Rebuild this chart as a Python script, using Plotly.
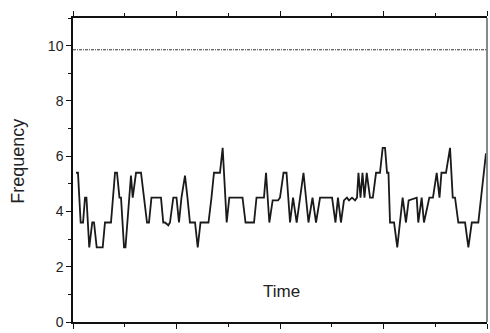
import plotly.graph_objects as go

time = [2.9, 4.8, 7.4, 9.7, 11.6, 13.0, 15.7, 18.6, 20.3, 22.9, 28.7, 30.9, 36.7, 40.6, 42.5,
        44.9, 46.4, 49.3, 50.7, 56.0, 57.7, 60.9, 65.7, 71.5, 73.4, 75.8, 85.0, 87.2, 88.9,
        92.1, 93.7, 96.9, 100.0, 102.4, 104.8, 108.2, 110.6, 113.0, 117.9, 120.5, 123.2,
        130.9, 133.8, 136.2, 142.0, 144.6, 148.5, 151.0, 163.8, 166.7, 174.9, 177.3, 184.5,
        186.5, 189.7, 192.9, 198.1, 200.0, 203.4, 206.3, 209.7, 212.6, 216.1, 222.7, 227.5,
        231.4, 234.8, 238.7, 250.3, 253.6, 256.0, 258.9, 261.8, 264.7, 266.7, 269.6, 272.5,
        274.4, 275.8, 277.8, 279.7, 281.6, 283.8, 287.0, 289.7, 292.8, 296.6, 299.2, 301.5,
        303.4, 304.8, 306.3, 310.2, 313.3, 318.5, 321.7, 324.3, 332.1, 333.6, 336.9, 339.1,
        344.3, 347.8, 351.4, 354.1, 356.0, 360.4, 364.3, 366.9, 369.1, 372.3, 378.8, 382.0,
        385.3, 391.6, 399.0]
freq = [5.4, 5.4, 3.6, 3.6, 4.5, 4.5, 2.7, 3.6, 3.6, 2.7, 2.7, 3.6, 3.6, 5.4, 5.4,
        4.5, 4.5, 2.7, 2.7, 5.3, 4.5, 5.4, 5.4, 3.6, 3.6, 4.5, 4.5, 3.6, 3.6,
        3.5, 3.6, 4.5, 4.5, 3.6, 4.5, 5.3, 4.5, 3.6, 3.6, 2.7, 3.6,
        3.6, 4.5, 5.4, 5.4, 6.3, 3.6, 4.5, 4.5, 3.6, 3.6, 4.5, 4.5,
        5.4, 3.6, 4.4, 4.4, 4.5, 5.4, 5.4, 3.6, 4.5, 3.6, 5.4, 3.6,
        4.5, 3.6, 4.5, 4.5, 3.6, 4.5, 3.6, 4.4, 4.5, 4.4, 4.5, 4.4,
        4.5, 5.4, 4.5, 5.4, 4.5, 5.4, 4.5, 4.5, 5.4, 5.4, 6.3, 6.3,
        5.4, 5.4, 3.6, 3.6, 2.7, 4.5, 3.6, 4.4, 4.5, 3.6, 4.5, 3.6,
        4.5, 4.5, 5.4, 4.5, 5.4, 5.4, 6.3, 4.5, 4.5, 3.6, 3.6, 2.7,
        3.6, 3.6, 6.1]
ref_time = [0, 400]
ref_freq = [9.85, 9.85]

fig = go.Figure()
fig.add_trace(go.Scatter(x=ref_time, y=ref_freq, mode="lines",
                         line=dict(color="#333333", width=1, dash="3px,1px,1px,1px"),
                         showlegend=False))
fig.add_trace(go.Scatter(x=time, y=freq, mode="lines",
                         line=dict(color="#1a1a1a", width=1.8), showlegend=False))

fig.update_layout(
    width=490, height=333,
    margin=dict(l=73, r=3, t=18, b=7),
    paper_bgcolor="white", plot_bgcolor="white",
    font=dict(family="Liberation Sans, Arial, sans-serif", color="#222222"),
    xaxis=dict(range=[0, 400], showgrid=False, zeroline=False, showline=True,
               linecolor="#111111", linewidth=1.5, mirror="ticks",
               ticks="outside", ticklen=5, tickwidth=1.2, tickcolor="#111111",
               dtick=100, tick0=0, showticklabels=False,
               minor=dict(ticks="outside", ticklen=3, dtick=50, tickcolor="#111111", tickwidth=1)),
    yaxis=dict(range=[0, 11], showgrid=False, zeroline=False, showline=True,
               linecolor="#111111", linewidth=1.5,
               ticks="outside", ticklen=5, tickwidth=1.2, tickcolor="#111111",
               dtick=2, tick0=0, tickfont=dict(size=14, color="#222222"),
               ticklabeloverflow="allow",
               minor=dict(ticks="outside", ticklen=3, dtick=1, tickcolor="#111111", tickwidth=1)),
    shapes=[dict(type="line", xref="paper", yref="paper", x0=1, x1=1, y0=0, y1=1,
                 line=dict(color="#888888", width=2))],
    annotations=[
        dict(text="Frequency", xref="paper", yref="paper", x=-0.133, y=0.53,
             textangle=-90, showarrow=False, xanchor="center", yanchor="middle",
             font=dict(size=18)),
        dict(text="Time", xref="paper", yref="paper", x=0.503, y=0.1,
             showarrow=False, xanchor="center", yanchor="middle", font=dict(size=17)),
    ],
)

fig.write_html("out.html")
